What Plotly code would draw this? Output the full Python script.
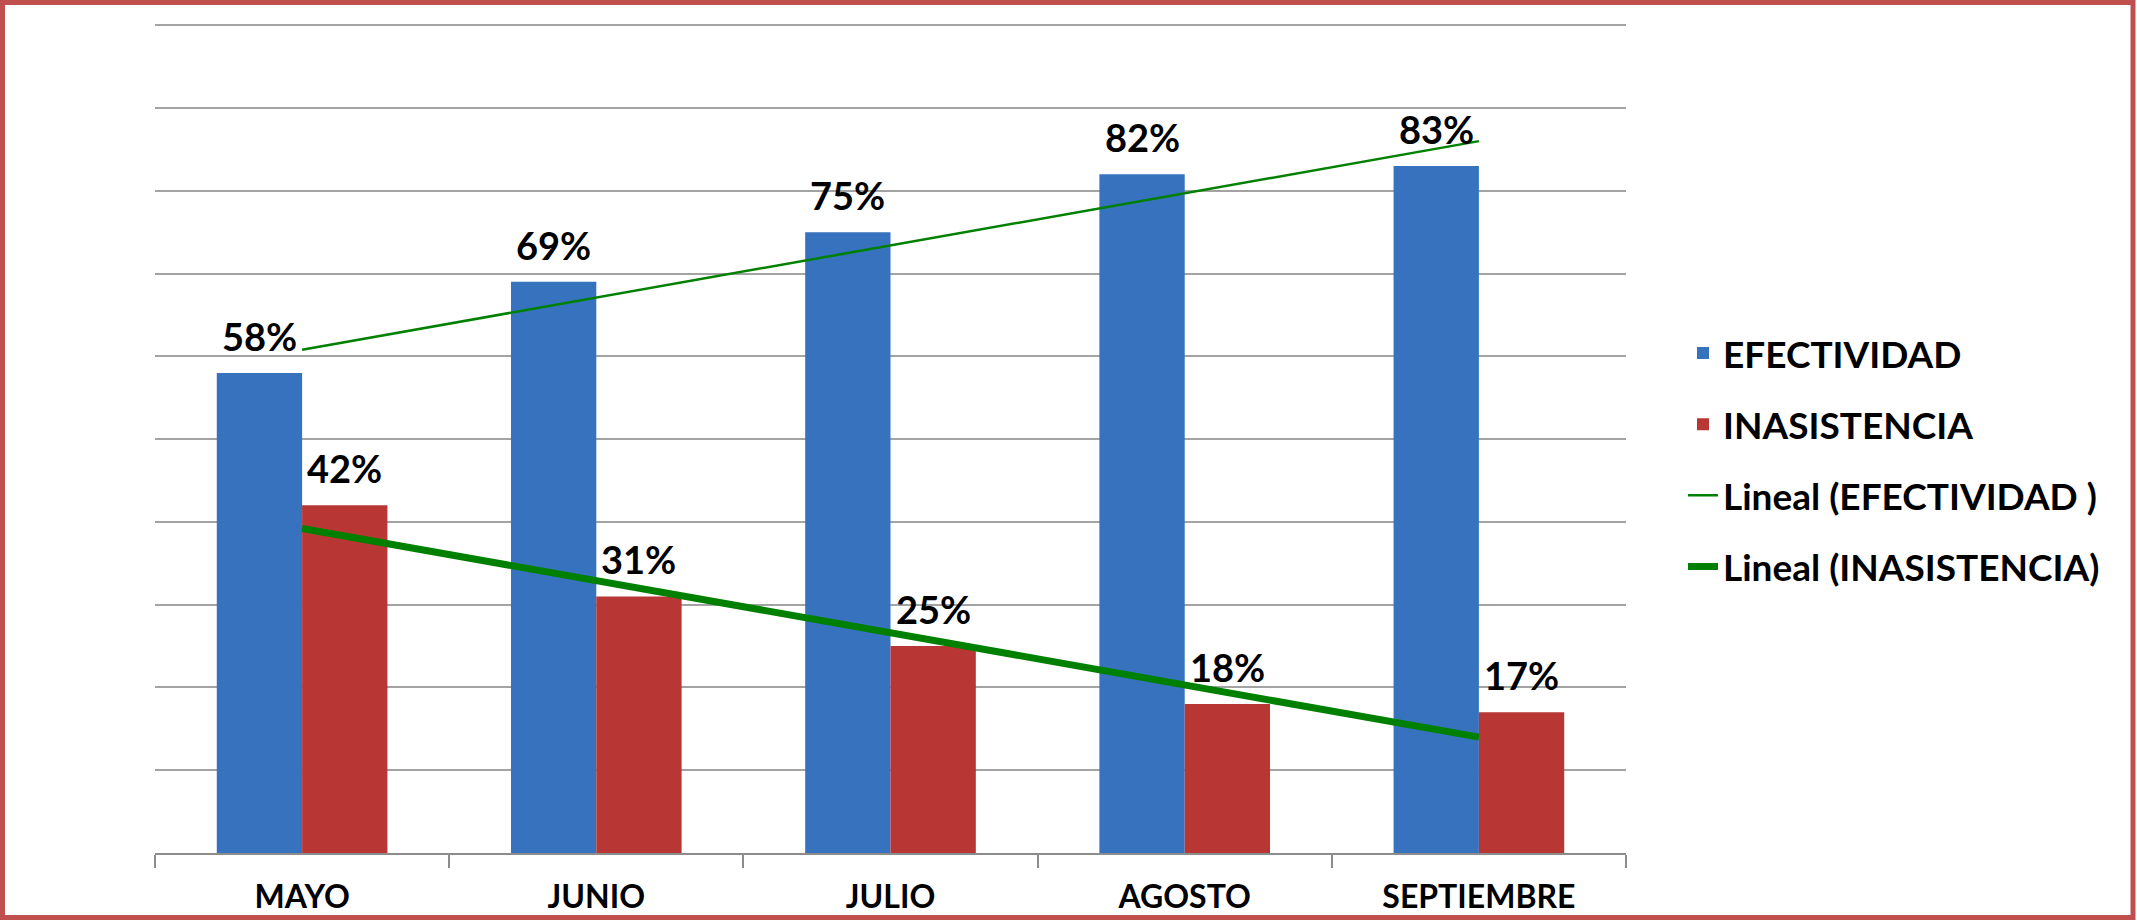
import numpy as np
import plotly.graph_objects as go

# ---- data ----
months = ["MAYO", "JUNIO", "JULIO", "AGOSTO", "SEPTIEMBRE"]
efectividad = [0.58, 0.69, 0.75, 0.82, 0.83]
inasistencia = [0.42, 0.31, 0.25, 0.18, 0.17]
y_ticks = [0.0, 0.1, 0.2, 0.3, 0.4, 0.5, 0.6, 0.7, 0.8, 0.9, 1.0]

names_bars = ["EFECTIVIDAD", "INASISTENCIA"]
names_trend = ["Lineal (EFECTIVIDAD )", "Lineal (INASISTENCIA)"]

# ---- layout constants (pixels) ----
W, H = 2137, 920
ML, MR, MT, MB = 155, 511, 24, 67
PW, PH = W - ML - MR, H - MT - MB
BARGAP = 0.42
FONT = "Lato"

cat_px = PW / len(months)
bar_px = cat_px * (1 - BARGAP) / 2


def trend(vals):
    x = np.arange(1, len(vals) + 1)
    slope, icpt = np.polyfit(x, vals, 1)
    return list(slope * x + icpt)


fig = go.Figure()
fig.add_trace(go.Bar(name=names_bars[0], x=months, y=efectividad,
                     marker=dict(color="#3672BE", line=dict(width=0)),
                     legendgroup="a", hoverinfo="skip"))
fig.add_trace(go.Bar(name=names_bars[1], x=months, y=inasistencia,
                     marker=dict(color="#B83634", line=dict(width=0)),
                     legendgroup="b", hoverinfo="skip"))
fig.add_trace(go.Scatter(name=names_trend[0], x=months, y=trend(efectividad),
                         mode="lines", line=dict(color="#008000", width=2.5),
                         legendgroup="c", hoverinfo="skip"))
fig.add_trace(go.Scatter(name=names_trend[1], x=months, y=trend(inasistencia),
                         mode="lines", line=dict(color="#008000", width=7),
                         legendgroup="d", hoverinfo="skip"))

# data labels
for vals, sign in ((efectividad, -1), (inasistencia, 1)):
    for m, v in zip(months, vals):
        fig.add_annotation(x=m, y=v, text=f"{round(v*100)}%", showarrow=False,
                           xref="x", yref="y", yanchor="bottom",
                           xshift=sign * bar_px / 2, yshift=12,
                           font=dict(family=FONT, size=38, color="#000000", weight="bold"))

# outer red border
def px_x(p):
    return (p - ML) / PW


def px_y(p):
    return (H - MB - p) / PH


fig.add_shape(type="rect", xref="paper", yref="paper",
              x0=px_x(2.5), x1=px_x(W - 4), y0=px_y(2.5), y1=px_y(H - 2.5),
              line=dict(color="#C0504D", width=5), fillcolor="rgba(0,0,0,0)", layer="below")

fig.update_layout(
    width=W, height=H,
    margin=dict(l=ML, r=MR, t=MT, b=MB, autoexpand=False),
    paper_bgcolor="#FFFFFF", plot_bgcolor="#FFFFFF",
    barmode="group", bargap=BARGAP, bargroupgap=0,
    font=dict(family=FONT, size=36, color="#000000", weight="bold"),
    showlegend=True,
    legend=dict(x=px_x(1683), xanchor="left", y=0.474, yanchor="middle",
                traceorder="grouped", tracegroupgap=20,
                font=dict(family=FONT, size=37, color="#000000", weight="bold"),
                bgcolor="rgba(0,0,0,0)"),
    xaxis=dict(type="category", showline=True, linecolor="#8C8C8C", linewidth=2,
               ticks="outside", tickson="boundaries", ticklen=13, tickwidth=2,
               tickcolor="#8C8C8C", showgrid=False, ticklabelstandoff=15,
               automargin=False,
               tickfont=dict(family=FONT, size=32, color="#000000", weight="bold"),
               fixedrange=True),
    yaxis=dict(range=[0, 1.0015], tickvals=y_ticks, showticklabels=False,
               showgrid=True, gridcolor="#A3A3A3", gridwidth=2, zeroline=False,
               automargin=False,
               showline=False, ticks="", fixedrange=True),
)

fig.write_html("out.html", config={"displayModeBar": False, "staticPlot": True},
               post_script="document.body.style.margin='0px';document.body.style.overflow='hidden';")
